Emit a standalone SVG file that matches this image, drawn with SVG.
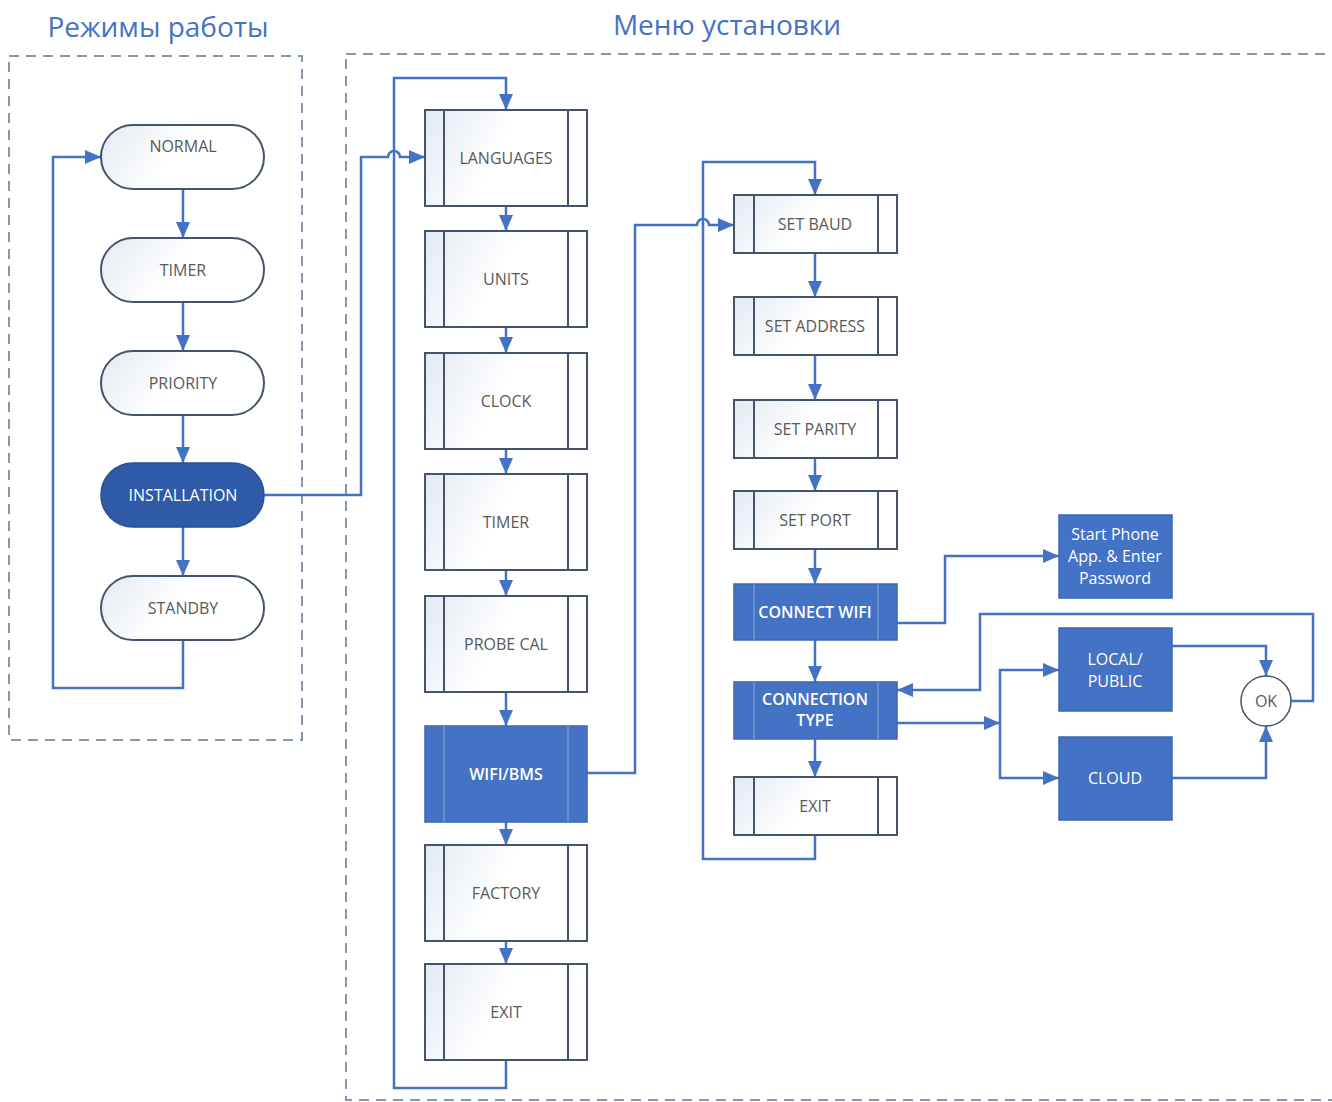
<svg xmlns="http://www.w3.org/2000/svg" width="1332" height="1102" viewBox="0 0 1332 1102">
<style>
.title{font-family:"Open Sans","Liberation Sans",sans-serif;font-size:28px;fill:#4472c4;text-anchor:middle}
.lbl{font-family:"Open Sans","Liberation Sans",sans-serif;font-size:16px;fill:#595959;text-anchor:middle;dominant-baseline:central}
.wlbl{font-family:"Open Sans","Liberation Sans",sans-serif;font-size:16px;fill:#ffffff;text-anchor:middle;dominant-baseline:central;font-weight:600}
.wlbl2{font-family:"Open Sans","Liberation Sans",sans-serif;font-size:16px;fill:#ffffff;text-anchor:middle;dominant-baseline:central}
.box{fill:url(#g);stroke:#44546a;stroke-width:2}
.inner{stroke:#44546a;stroke-width:2}
.fbox{fill:#4472c4;stroke:#3c66b4;stroke-width:1.5}
.finner{stroke:#8eaadc;stroke-width:1}
.cont{fill:none;stroke:#8497b0;stroke-width:2;stroke-dasharray:10 7}
.conn{fill:none;stroke:#4472c4;stroke-width:2.5}
.arr{fill:none;stroke:#4472c4;stroke-width:2.5;marker-end:url(#ah)}
</style>
<defs>
<linearGradient id="g" x1="0" y1="0" x2="1" y2="0.3">
<stop offset="0" stop-color="#e3e9f3"/>
<stop offset="0.55" stop-color="#ffffff"/>
<stop offset="1" stop-color="#ffffff"/>
</linearGradient>
<marker id="ah" markerUnits="userSpaceOnUse" markerWidth="18" markerHeight="18" viewBox="0 0 18 18" refX="17" refY="9" orient="auto">
<path d="M1,2 L17,9 L1,16 Z" fill="#4472c4"/>
</marker>
</defs>
<rect width="1332" height="1102" fill="#ffffff"/>
<g id="containers">
<rect class="cont" x="9" y="56" width="293" height="684"/>
<rect class="cont" x="346" y="54" width="1010" height="1046"/>
</g>
<text class="title" x="158" y="37">Режимы работы</text>
<text class="title" x="727" y="35">Меню установки</text>
<g id="connectors">
<path class="arr" d="M183,189 V238"/>
<path class="arr" d="M183,302 V351"/>
<path class="arr" d="M183,415 V463"/>
<path class="arr" d="M183,527 V576"/>
<path class="arr" d="M183,640 V688 H53 V157 H101"/>
<path class="arr" d="M264,495 H361 V157 H388 a6,6 0 0 1 12,0 H425"/>
<path class="arr" d="M506,206 V231"/>
<path class="arr" d="M506,327 V353"/>
<path class="arr" d="M506,449 V474"/>
<path class="arr" d="M506,570 V596"/>
<path class="arr" d="M506,692 V726"/>
<path class="arr" d="M506,822 V845"/>
<path class="arr" d="M506,941 V964"/>
<path class="arr" d="M506,1060 V1088 H394 V78 H506 V110"/>
<path class="arr" d="M587,773 H635 V225 H697 a6,6 0 0 1 12,0 H734"/>
<path class="arr" d="M815,253 V297"/>
<path class="arr" d="M815,355 V400"/>
<path class="arr" d="M815,458 V491"/>
<path class="arr" d="M815,549 V584"/>
<path class="arr" d="M815,640 V682"/>
<path class="arr" d="M815,739 V777"/>
<path class="arr" d="M815,835 V859 H703 V162 H815 V195"/>
<path class="arr" d="M897,623 H945 V556 H1059"/>
<path class="arr" d="M897,723 H1000"/>
<path class="arr" d="M1000,723 V670 H1059"/>
<path class="arr" d="M1000,723 V778 H1059"/>
<path class="arr" d="M1172,646 H1266 V676"/>
<path class="arr" d="M1172,778 H1266 V726"/>
<path class="arr" d="M1291,701 H1313 V614 H980 V690 H897"/>
</g>
<g id="n-normal"><rect class="box" x="101" y="125" width="163" height="64" rx="32"/><text class="lbl" x="183" y="146">NORMAL</text></g>
<g id="n-timer"><rect class="box" x="101" y="238" width="163" height="64" rx="32"/><text class="lbl" x="183" y="270">TIMER</text></g>
<g id="n-priority"><rect class="box" x="101" y="351" width="163" height="64" rx="32"/><text class="lbl" x="183" y="383">PRIORITY</text></g>
<g id="n-installation"><rect x="101" y="463" width="163" height="64" rx="32" fill="#2e5aa8" stroke="#2a4f91" stroke-width="1.5"/><text class="wlbl2" x="183" y="495">INSTALLATION</text></g>
<g id="n-standby"><rect class="box" x="101" y="576" width="163" height="64" rx="32"/><text class="lbl" x="183" y="608">STANDBY</text></g>
<g id="m-languages"><rect class="box" x="425" y="110" width="162" height="96"/><line class="inner" x1="444" y1="110" x2="444" y2="206"/><line class="inner" x1="568" y1="110" x2="568" y2="206"/><text class="lbl" x="506" y="158">LANGUAGES</text></g>
<g id="m-units"><rect class="box" x="425" y="231" width="162" height="96"/><line class="inner" x1="444" y1="231" x2="444" y2="327"/><line class="inner" x1="568" y1="231" x2="568" y2="327"/><text class="lbl" x="506" y="279">UNITS</text></g>
<g id="m-clock"><rect class="box" x="425" y="353" width="162" height="96"/><line class="inner" x1="444" y1="353" x2="444" y2="449"/><line class="inner" x1="568" y1="353" x2="568" y2="449"/><text class="lbl" x="506" y="401">CLOCK</text></g>
<g id="m-timer"><rect class="box" x="425" y="474" width="162" height="96"/><line class="inner" x1="444" y1="474" x2="444" y2="570"/><line class="inner" x1="568" y1="474" x2="568" y2="570"/><text class="lbl" x="506" y="522">TIMER</text></g>
<g id="m-probecal"><rect class="box" x="425" y="596" width="162" height="96"/><line class="inner" x1="444" y1="596" x2="444" y2="692"/><line class="inner" x1="568" y1="596" x2="568" y2="692"/><text class="lbl" x="506" y="644">PROBE CAL</text></g>
<g id="m-wifibms"><rect class="fbox" x="425" y="726" width="162" height="96"/><line class="finner" x1="444" y1="726" x2="444" y2="822"/><line class="finner" x1="568" y1="726" x2="568" y2="822"/><text class="wlbl" x="506" y="774">WIFI/BMS</text></g>
<g id="m-factory"><rect class="box" x="425" y="845" width="162" height="96"/><line class="inner" x1="444" y1="845" x2="444" y2="941"/><line class="inner" x1="568" y1="845" x2="568" y2="941"/><text class="lbl" x="506" y="893">FACTORY</text></g>
<g id="m-exit"><rect class="box" x="425" y="964" width="162" height="96"/><line class="inner" x1="444" y1="964" x2="444" y2="1060"/><line class="inner" x1="568" y1="964" x2="568" y2="1060"/><text class="lbl" x="506" y="1012">EXIT</text></g>
<g id="w-setbaud"><rect class="box" x="734" y="195" width="163" height="58"/><line class="inner" x1="754" y1="195" x2="754" y2="253"/><line class="inner" x1="878" y1="195" x2="878" y2="253"/><text class="lbl" x="815" y="224">SET BAUD</text></g>
<g id="w-setaddress"><rect class="box" x="734" y="297" width="163" height="58"/><line class="inner" x1="754" y1="297" x2="754" y2="355"/><line class="inner" x1="878" y1="297" x2="878" y2="355"/><text class="lbl" x="815" y="326">SET ADDRESS</text></g>
<g id="w-setparity"><rect class="box" x="734" y="400" width="163" height="58"/><line class="inner" x1="754" y1="400" x2="754" y2="458"/><line class="inner" x1="878" y1="400" x2="878" y2="458"/><text class="lbl" x="815" y="429">SET PARITY</text></g>
<g id="w-setport"><rect class="box" x="734" y="491" width="163" height="58"/><line class="inner" x1="754" y1="491" x2="754" y2="549"/><line class="inner" x1="878" y1="491" x2="878" y2="549"/><text class="lbl" x="815" y="520">SET PORT</text></g>
<g id="w-connectwifi"><rect class="fbox" x="734" y="584" width="163" height="56"/><line class="finner" x1="754" y1="584" x2="754" y2="640"/><line class="finner" x1="878" y1="584" x2="878" y2="640"/><text class="wlbl" x="815" y="612">CONNECT WIFI</text></g>
<g id="w-conntype"><rect class="fbox" x="734" y="682" width="163" height="57"/><line class="finner" x1="754" y1="682" x2="754" y2="739"/><line class="finner" x1="878" y1="682" x2="878" y2="739"/><text class="wlbl" x="815" y="699">CONNECTION</text><text class="wlbl" x="815" y="720">TYPE</text></g>
<g id="w-exit"><rect class="box" x="734" y="777" width="163" height="58"/><line class="inner" x1="754" y1="777" x2="754" y2="835"/><line class="inner" x1="878" y1="777" x2="878" y2="835"/><text class="lbl" x="815" y="806">EXIT</text></g>
<g id="c-startphone"><rect class="fbox" x="1059" y="515" width="113" height="83"/><text class="wlbl2" x="1115" y="534">Start Phone</text><text class="wlbl2" x="1115" y="556">App. &amp; Enter</text><text class="wlbl2" x="1115" y="578">Password</text></g>
<g id="c-local"><rect class="fbox" x="1059" y="628" width="113" height="83"/><text class="wlbl2" x="1115" y="659">LOCAL/</text><text class="wlbl2" x="1115" y="681">PUBLIC</text></g>
<g id="c-cloud"><rect class="fbox" x="1059" y="737" width="113" height="83"/><text class="wlbl2" x="1115" y="778">CLOUD</text></g>
<g id="c-ok"><circle cx="1266" cy="701" r="25" fill="#ffffff" stroke="#44546a" stroke-width="1.5"/><text class="lbl" x="1266" y="701">OK</text></g>
</svg>
